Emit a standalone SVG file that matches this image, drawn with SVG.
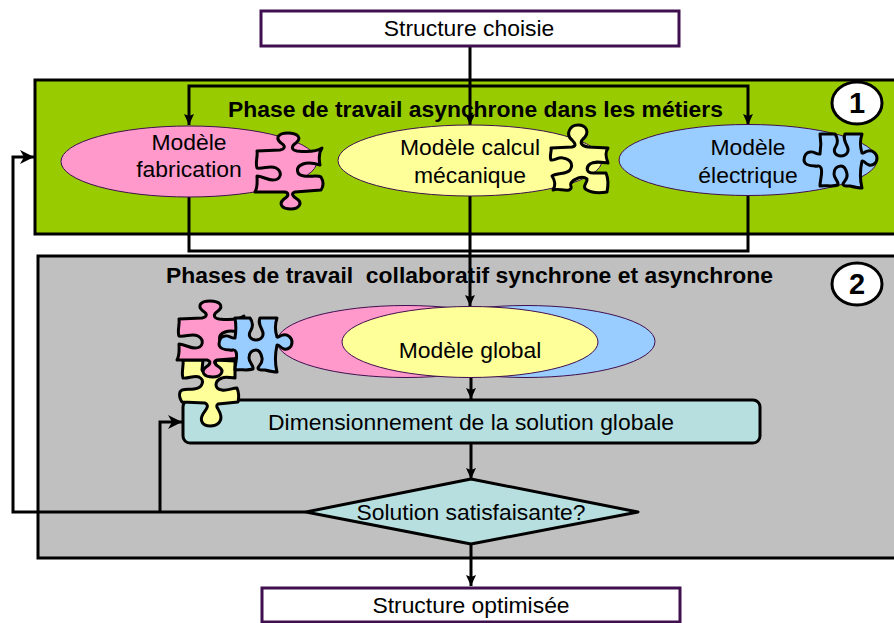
<svg xmlns="http://www.w3.org/2000/svg" width="894" height="623" viewBox="0 0 894 623">
<style>
text{font-family:"Liberation Sans",Arial,sans-serif;fill:#000;text-anchor:middle}
.t{font-size:22.900px}
.h{font-size:22.900px;font-weight:bold;white-space:pre}
.n{font-size:29px;font-weight:bold}
.box{fill:#fff;stroke:#3f0f4f;stroke-width:3}
.reg{stroke:#000;stroke-width:3}
.el{stroke:#3f0f4f;stroke-width:1}
.pz{stroke:#000;stroke-width:3;stroke-linejoin:round}
.badge{fill:#fff;stroke:#000;stroke-width:3}
.flow{fill:#b7dfe0;stroke:#000;stroke-width:3;stroke-linejoin:round}
.c{fill:none;stroke:#000;stroke-width:3}
.a{marker-end:url(#ah)}
.b{marker-end:url(#bh)}
</style>
<defs>
<marker id="ah" markerUnits="userSpaceOnUse" markerWidth="12" markerHeight="12" refX="11" refY="5" orient="auto"><path d="M0 0L11 5L0 10L2 5Z" fill="#000"/></marker>
<marker id="bh" markerUnits="userSpaceOnUse" markerWidth="16" markerHeight="16" refX="14" refY="7" orient="auto"><path d="M0 0L14 7L0 14L4 7Z" fill="#000"/></marker>
<path id="pzP" d="M257 151L280 150C285 149 286 146 281 143C275 138 278 133 288 133C298 133 302 138 296 143C291 146 291 150 297 151C306 152 316 152 322 148C318 154 319 160 320 165C314 163 308 162 303 164C295 167 296 175 304 176C310 177 318 175 321 177C324 182 323 187 321 190L295 192C291 193 292 196 297 199C303 203 299 209 291 209C282 209 278 204 284 199C289 196 289 193 285 192L255 192C258 187 257 181 257 176C264 177 268 180 273 180C281 180 283 172 276 168C270 165 264 169 257 168C255 163 258 156 257 151Z"/>
<path id="pzB" d="M820 134L835 134C838 138 838 143 836 146C832 152 836 156 841 156C846 156 850 152 847 146C845 142 843 138 845 134L862 134C860 140 860 147 862 153C864 154 865 151 868 151C873 150 877 154 877 158C877 163 873 166 869 165C865 164 864 160 862 161C860 170 860 180 862 188C858 188 854 187 850 186C846 186 843 186 843 184C844 181 848 179 847 174C846 169 844 166 841 166C837 166 834 169 834 174C834 179 839 181 838 185C832 187 826 185 820 186C820 180 823 172 821 168C819 164 818 167 815 166C809 166 804 164 804 160C804 155 807 152 810 152C814 151 817 155 820 154C821 148 821 140 820 134Z"/>
</defs>

<g id="regions">
<rect id="phase1" class="reg" x="35" y="80" width="870" height="154" fill="#99cc00"/>
<rect id="phase2" class="reg" x="38" y="256" width="870" height="302" fill="#c0c0c0"/>
</g>

<g id="connectors">
<path class="c a" d="M470 46V125"/>
<path class="c a" d="M470 86H189V125"/>
<path class="c a" d="M470 86H748V125"/>
<path class="c" d="M189 196V251H748V196"/>
<path class="c a" d="M470 196V306"/>
<path class="c a" d="M471 377V399"/>
<path class="c a" d="M471 443V479"/>
<path class="c a" d="M471 544V586"/>
<path class="c b" d="M306 512H13V157H34"/>
<path class="c b" d="M160 512V422H182"/>
</g>

<g id="start"><rect class="box" x="261" y="11" width="418" height="35"/><text class="t" x="469" y="36">Structure choisie</text></g>
<g id="title1"><text class="h" x="475.500" y="117">Phase de travail asynchrone dans les métiers</text></g>
<g id="badge1"><ellipse class="badge" cx="857" cy="103" rx="25" ry="21"/><text class="n" x="857" y="113">1</text></g>

<g id="modele-fabrication">
<ellipse class="el" cx="189" cy="161.500" rx="128" ry="35.500" fill="#ff99cc"/>
<use href="#pzP" class="pz" fill="#ff99cc"/>
<text class="t" x="189" y="150">Modèle</text><text class="t" x="189" y="177">fabrication</text>
</g>
<g id="modele-calcul">
<ellipse class="el" cx="470" cy="160.500" rx="132" ry="35.500" fill="#ffff99"/>
<path class="pz" fill="#ffff99" d="M551 148L572 147C577 146 575 143 572 140C565 134 570 125 578 125C587 125 590 133 583 139C579 143 582 146 588 147L608 148C605 152 606 158 608 163C600 162 594 161 590 164C585 168 587 173 593 173L606 173C609 180 608 187 607 192C600 193 592 193 587 190C581 187 588 182 587 179C582 175 574 179 571 183C569 186 574 188 569 190C563 191 558 188 553 190C557 184 554 179 552 176C558 172 566 175 570 170C574 164 570 159 563 158C558 157 554 161 551 160C549 156 552 151 551 148Z"/>
<text class="t" x="470" y="155">Modèle calcul</text><text class="t" x="470" y="183">mécanique</text>
</g>
<g id="modele-electrique">
<ellipse class="el" cx="748" cy="160" rx="129" ry="35.500" fill="#99ccff"/>
<use href="#pzB" class="pz" fill="#99ccff"/>
<text class="t" x="748" y="155">Modèle</text><text class="t" x="748" y="183">électrique</text>
</g>

<g id="title2"><text class="h" x="469.500" y="283">Phases de travail  collaboratif synchrone et asynchrone</text></g>
<g id="badge2"><ellipse class="badge" cx="857" cy="284" rx="25" ry="21"/><text class="n" x="857" y="294">2</text></g>

<g id="modele-global">
<ellipse class="el" cx="406" cy="341.500" rx="129" ry="36" fill="#ff99cc"/>
<ellipse class="el" cx="526" cy="341.500" rx="129" ry="36" fill="#99ccff"/>
<ellipse class="el" cx="470" cy="342" rx="128" ry="35.500" fill="#ffff99"/>
<text class="t" x="470" y="358">Modèle global</text>
</g>

<g id="dimensionnement">
<rect class="flow" x="183" y="400" width="577" height="43" rx="7"/>
<text class="t" x="471" y="430">Dimensionnement de la solution globale</text>
</g>

<g id="puzzle-global">
<path class="pz" fill="#ffff99" d="M183 360L203 360L202 370C204 375 215 375 217 370L215 360L235 361L235 378C230 378 226 376 222 378C214 381 214 389 222 390C227 391 232 388 237 388C239 393 239 398 238 402L218 404C215 406 218 408 220 413C223 421 218 426 210 426C203 426 199 421 203 414C206 409 210 406 205 403L182 402C180 399 179 395 180 392C182 388 188 390 194 389C203 388 205 380 199 377C194 375 188 379 183 378C181 372 184 366 183 360Z"/>
<use href="#pzP" class="pz" fill="#ff99cc" transform="translate(-78 168)"/>
<use href="#pzB" class="pz" fill="#99ccff" transform="translate(-585 184)"/>
</g>

<g id="decision">
<path class="flow" d="M471 479L638 512L471 544L306 512Z"/>
<text class="t" x="471" y="520">Solution satisfaisante?</text>
</g>

<g id="end"><rect class="box" x="262" y="588" width="418" height="34"/><text class="t" x="471" y="613">Structure optimisée</text></g>
</svg>
